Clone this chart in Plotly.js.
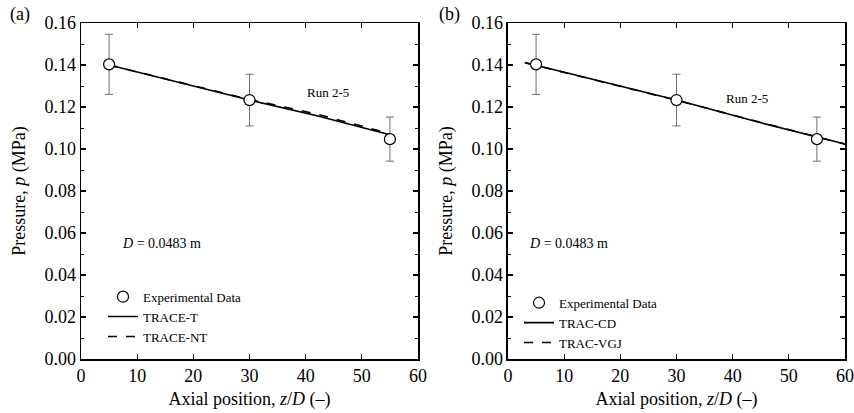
<!DOCTYPE html>
<html>
<head>
<meta charset="utf-8">
<script src="https://cdn.plot.ly/plotly-3.0.1.min.js"></script>
<style>html,body{margin:0;padding:0;background:#fff}#chart{width:854px;height:413px}</style>
</head>
<body>
<div id="chart"></div>
<script>
// Experimental data (shared by both panels)
const expZ = [5, 30, 55];
const expP = [0.1403, 0.1233, 0.1047];
const expErr = [0.0143, 0.0123, 0.0105];

// Panel (a) simulations
const traceTZ = [5, 30, 42, 55];
const traceTP = [0.1400, 0.1233, 0.1158, 0.1068];
const traceNTZ = [5, 30, 42, 55];
const traceNTP = [0.1400, 0.1236, 0.1166, 0.1073];

// Panel (b) simulations
const tracCDZ = [3, 30, 45, 60];
const tracCDP = [0.1412, 0.1233, 0.1125, 0.1024];
const tracVGJZ = [3, 30, 45, 60];
const tracVGJP = [0.1411, 0.1232, 0.1127, 0.1023];

const serif = "Liberation Serif";

function lineTrace(x, y, name, dash, xa, ya, leg, rank) {
  return {x: x, y: y, name: name, type: 'scatter', mode: 'lines',
    line: {color: '#000', width: 1.6, dash: dash},
    xaxis: xa, yaxis: ya, legend: leg, legendrank: rank};
}
function errTrace(xa, ya) {
  return {x: expZ, y: expP, type: 'scatter', mode: 'markers', showlegend: false,
    marker: {size: 1, color: 'rgba(0,0,0,0)'},
    error_y: {type: 'data', array: expErr, visible: true, color: '#6e6e6e', thickness: 1, width: 4},
    xaxis: xa, yaxis: ya, hoverinfo: 'skip'};
}
function expTrace(xa, ya, leg) {
  return {x: expZ, y: expP, name: 'Experimental Data', type: 'scatter', mode: 'markers',
    marker: {symbol: 'circle', size: 11, color: '#fff', line: {color: '#000', width: 1.2}},
    xaxis: xa, yaxis: ya, legend: leg, legendrank: 1};
}

const data = [
  lineTrace(traceNTZ, traceNTP, 'TRACE-NT', 'dash', 'x', 'y', 'legend', 3),
  lineTrace(traceTZ, traceTP, 'TRACE-T', 'solid', 'x', 'y', 'legend', 2),
  errTrace('x', 'y'),
  expTrace('x', 'y', 'legend'),
  lineTrace(tracVGJZ, tracVGJP, 'TRAC-VGJ', 'dash', 'x2', 'y2', 'legend2', 3),
  lineTrace(tracCDZ, tracCDP, 'TRAC-CD', 'solid', 'x2', 'y2', 'legend2', 2),
  errTrace('x2', 'y2'),
  expTrace('x2', 'y2', 'legend2')
];

function xAxis(domain, anchor) {
  return {domain: domain, anchor: anchor, range: [0, 60], dtick: 10, tick0: 0,
    ticks: 'inside', ticklen: 5, tickwidth: 1.2, tickcolor: '#000',
    showline: true, linecolor: '#000', linewidth: 1.5, mirror: 'ticks',
    showgrid: false, zeroline: false,
    tickfont: {family: serif, size: 18, color: '#000'},
    title: {text: 'Axial position, <i>z</i>/<i>D</i> (–)', font: {family: serif, size: 18, color: '#000'}, standoff: 7}};
}
function yAxis(anchor) {
  return {domain: [0, 1], anchor: anchor, range: [0, 0.16], dtick: 0.02, tick0: 0, tickformat: '.2f',
    ticks: 'inside', ticklen: 5, tickwidth: 1.2, tickcolor: '#000',
    minor: {dtick: 0.01, ticks: 'inside', ticklen: 3, tickwidth: 1, tickcolor: '#000', showgrid: false},
    showline: true, linecolor: '#000', linewidth: 1.5, mirror: 'ticks',
    showgrid: false, zeroline: false,
    tickfont: {family: serif, size: 18, color: '#000'},
    title: {text: 'Pressure, <i>p</i> (MPa)', font: {family: serif, size: 18, color: '#000'}, standoff: 14}};
}

const legendBase = {bgcolor: 'rgba(0,0,0,0)', borderwidth: 0, traceorder: 'normal',
  font: {family: serif, size: 13, color: '#000'}, xanchor: 'left', yanchor: 'top',
  tracegroupgap: 0, itemwidth: 30};

const layout = {
  width: 854, height: 413,
  margin: {l: 81, r: 9, t: 23, b: 54},
  paper_bgcolor: '#fff', plot_bgcolor: '#fff',
  font: {family: serif},
  showlegend: true,
  xaxis: xAxis([0, 0.4411], 'y'),
  yaxis: yAxis('x'),
  xaxis2: xAxis([0.5589, 1], 'y2'),
  yaxis2: yAxis('x2'),
  legend: Object.assign({}, legendBase, {x: 0.0288, y: 0.230}),
  legend2: Object.assign({}, legendBase, {x: 0.5733, y: 0.212}),
  annotations: [
    {xref: 'x', yref: 'y', x: 44, y: 0.1267, text: 'Run 2-5', showarrow: false, xanchor: 'center', yanchor: 'middle', font: {family: serif, size: 13, color: '#000'}},
    {xref: 'x2', yref: 'y2', x: 42.5, y: 0.124, text: 'Run 2-5', showarrow: false, xanchor: 'center', yanchor: 'middle', font: {family: serif, size: 13, color: '#000'}},
    {xref: 'x', yref: 'y', x: 6.9, y: 0.0552, text: '<i>D</i> = 0.0483 m', showarrow: false, xanchor: 'left', yanchor: 'middle', font: {family: serif, size: 14, color: '#000'}},
    {xref: 'x2', yref: 'y2', x: 3.4, y: 0.0552, text: '<i>D</i> = 0.0483 m', showarrow: false, xanchor: 'left', yanchor: 'middle', font: {family: serif, size: 14, color: '#000'}},
    {xref: 'paper', yref: 'paper', x: -0.0798, y: 1.024, text: '(a)', showarrow: false, xanchor: 'center', yanchor: 'middle', font: {family: serif, size: 18, color: '#000'}},
    {xref: 'paper', yref: 'paper', x: 0.4817, y: 1.024, text: '(b)', showarrow: false, xanchor: 'center', yanchor: 'middle', font: {family: serif, size: 18, color: '#000'}}
  ]
};

Plotly.newPlot('chart', data, layout, {staticPlot: true, displayModeBar: false});
</script>
</body>
</html>
